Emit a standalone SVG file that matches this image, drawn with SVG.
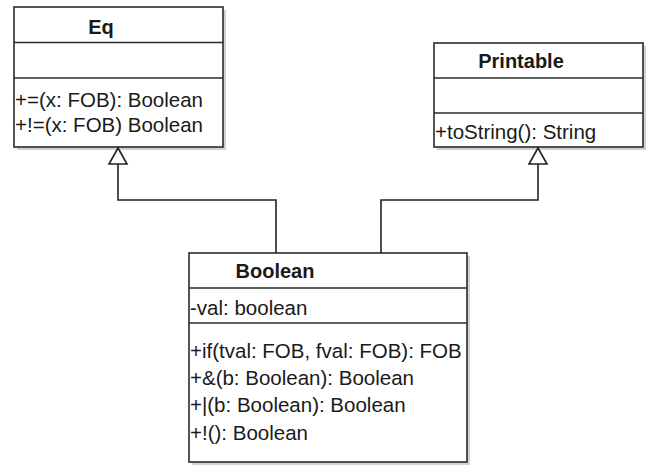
<svg xmlns="http://www.w3.org/2000/svg" width="648" height="466" viewBox="0 0 648 466">
<style>
.box{fill:#ffffff;stroke:#2b2b2b;stroke-width:1.6}
.shadow{fill:#d2d2d2}
.div{stroke:#2b2b2b;stroke-width:1.6;fill:none}
.title{font-family:"Liberation Sans",Arial,sans-serif;font-size:20px;font-weight:bold;fill:#1a1a1a;text-anchor:middle}
.mem{font-family:"Liberation Sans",Arial,sans-serif;font-size:20.5px;fill:#1a1a1a}
.edge{fill:none;stroke:#222222;stroke-width:1.6}
.head{fill:#ffffff;stroke:#222222;stroke-width:1.6;stroke-linejoin:miter}
</style>
<rect width="648" height="466" fill="#ffffff"/>
<g id="Eq">
<rect class="shadow" x="17" y="10" width="209" height="140"/>
<rect class="box" x="14" y="7" width="209" height="140"/>
<line class="div" x1="14" y1="42.5" x2="223" y2="42.5"/>
<line class="div" x1="14" y1="78" x2="223" y2="78"/>
<text class="title" x="101" y="34">Eq</text>
<text class="mem" x="15" y="107">+=(x: FOB): Boolean</text>
<text class="mem" x="15" y="132">+!=(x: FOB) Boolean</text>
</g>
<g id="Printable">
<rect class="shadow" x="437" y="46" width="209" height="104"/>
<rect class="box" x="434" y="43" width="209" height="104"/>
<line class="div" x1="434" y1="78" x2="643" y2="78"/>
<line class="div" x1="434" y1="113" x2="643" y2="113"/>
<text class="title" x="521" y="68">Printable</text>
<text class="mem" x="435" y="139">+toString(): String</text>
</g>
<g id="Boolean">
<rect class="shadow" x="192" y="256" width="278" height="209"/>
<rect class="box" x="189" y="253" width="278" height="209"/>
<line class="div" x1="189" y1="288" x2="467" y2="288"/>
<line class="div" x1="189" y1="323" x2="467" y2="323"/>
<text class="title" x="275" y="278">Boolean</text>
<text class="mem" x="190" y="315">-val: boolean</text>
<text class="mem" x="190" y="358">+if(tval: FOB, fval: FOB): FOB</text>
<text class="mem" x="190" y="385">+&amp;(b: Boolean): Boolean</text>
<text class="mem" x="190" y="412">+|(b: Boolean): Boolean</text>
<text class="mem" x="190" y="440">+!(): Boolean</text>
</g>
<g id="connectors">
<polyline class="edge" points="276,253 276,200 118,200 118,164"/>
<polygon class="head" points="118,148 109,164 127,164"/>
<polyline class="edge" points="381,253 381,200 538,200 538,164"/>
<polygon class="head" points="538,148 529,164 547,164"/>
</g>
</svg>
